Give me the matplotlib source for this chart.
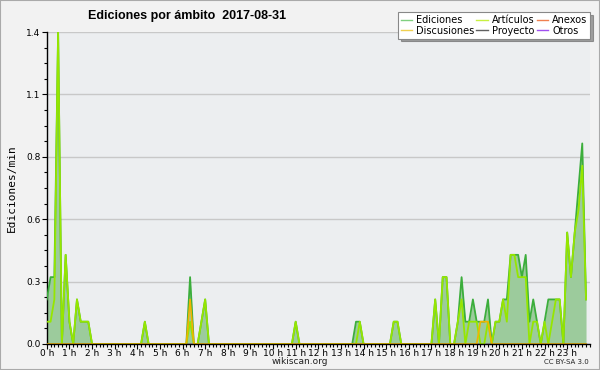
import numpy as np
from matplotlib import pyplot as plt
from matplotlib.ticker import MultipleLocator, FixedLocator
from matplotlib.lines import Line2D

# edits per minute, 10-minute bins (6 per hour), one row per hour
ediciones = [
    0.2, 0.3, 0.3, 1.4, 0, 0.4,
    0.1, 0, 0.2, 0.1, 0.1, 0.1,
    0, 0, 0, 0, 0, 0,
    0, 0, 0, 0, 0, 0,
    0, 0, 0.1, 0, 0, 0,
    0, 0, 0, 0, 0, 0,
    0, 0, 0.3, 0, 0, 0.1,
    0.2, 0, 0, 0, 0, 0,
    0, 0, 0, 0, 0, 0,
    0, 0, 0, 0, 0, 0,
    0, 0, 0, 0, 0, 0,
    0.1, 0, 0, 0, 0, 0,
    0, 0, 0, 0, 0, 0,
    0, 0, 0, 0, 0.1, 0.1,
    0, 0, 0, 0, 0, 0,
    0, 0, 0.1, 0.1, 0, 0,
    0, 0, 0, 0, 0, 0,
    0, 0.2, 0, 0.3, 0.3, 0,
    0, 0.1, 0.3, 0.1, 0.1, 0.2,
    0.1, 0.1, 0.1, 0.2, 0, 0.1,
    0.1, 0.2, 0.2, 0.4, 0.4, 0.4,
    0.3, 0.4, 0.1, 0.2, 0.1, 0,
    0.1, 0.2, 0.2, 0.2, 0.2, 0,
    0.5, 0.3, 0.5, 0.7, 0.9, 0.2,
]
articulos = [
    0.1, 0.1, 0.2, 1.4, 0, 0.4,
    0.1, 0, 0.2, 0.1, 0.1, 0.1,
    0, 0, 0, 0, 0, 0,
    0, 0, 0, 0, 0, 0,
    0, 0, 0.1, 0, 0, 0,
    0, 0, 0, 0, 0, 0,
    0, 0, 0.1, 0, 0, 0.1,
    0.2, 0, 0, 0, 0, 0,
    0, 0, 0, 0, 0, 0,
    0, 0, 0, 0, 0, 0,
    0, 0, 0, 0, 0, 0,
    0.1, 0, 0, 0, 0, 0,
    0, 0, 0, 0, 0, 0,
    0, 0, 0, 0, 0, 0.1,
    0, 0, 0, 0, 0, 0,
    0, 0, 0.1, 0.1, 0, 0,
    0, 0, 0, 0, 0, 0,
    0, 0.2, 0, 0.3, 0.3, 0,
    0, 0.1, 0.2, 0, 0.1, 0.1,
    0.1, 0, 0, 0.1, 0, 0.1,
    0.1, 0.2, 0.1, 0.4, 0.4, 0.3,
    0.3, 0.3, 0, 0.1, 0.1, 0,
    0.1, 0, 0.1, 0.2, 0.2, 0,
    0.5, 0.3, 0.5, 0.6, 0.8, 0.2,
]
discusiones = [0.0] * 144
discusiones[38] = 0.2
discusiones[115] = 0.1
discusiones[116] = 0.1
discusiones[117] = 0.1
anexos = [0.0] * 144
proyecto = [0.0] * 144
otros = [0.0] * 144

horas = np.arange(144) / 6.0
hour_labels = ['%i h' % h for h in range(24)]
y_ticks = [0, 0.28, 0.56, 0.84, 1.12, 1.4]
y_labels = ['%.1f' % v for v in y_ticks]

fig = plt.figure(figsize=(6, 3.7), dpi=100, facecolor='#f2f2f2')
ax = fig.add_axes([0.078, 0.0703, 0.905, 0.8432], facecolor='#eceef0')

ax.fill_between(horas, ediciones, color='#9ccb9c', lw=0, zorder=2)
ax.plot(horas, anexos, color='#f08050', lw=1, zorder=2)
ax.plot(horas, proyecto, color='#606060', lw=1, zorder=2)
ax.plot(horas, otros, color='#a050f0', lw=1, zorder=2)
ax.plot(horas, ediciones, color='#3cae3c', lw=1.3, zorder=3)
ax.plot(horas, articulos, color='#96e600', lw=1.3, zorder=4)
ax.plot(horas, discusiones, color='#f0b400', lw=1.2, zorder=5)

ax.set_xlim(0, 24)
ax.set_ylim(0, 1.4)
ax.xaxis.set_major_locator(FixedLocator(range(24)))
ax.set_xticklabels(hour_labels)
ax.xaxis.set_minor_locator(MultipleLocator(1 / 6.0))
ax.yaxis.set_major_locator(FixedLocator(y_ticks))
ax.set_yticklabels(y_labels)
ax.yaxis.set_minor_locator(MultipleLocator(0.07))
ax.tick_params(axis='both', which='major', labelsize=6.5, length=3.5, width=0.8, colors='black')
ax.tick_params(axis='x', which='major', pad=0)
ax.tick_params(axis='y', which='major', pad=1)
ax.tick_params(axis='both', which='minor', length=2.5, width=0.8)
ax.grid(axis='y', which='major', color='#c8c8c8', lw=1)
ax.set_axisbelow(True)
for s in ['top', 'right']:
    ax.spines[s].set_visible(False)
ax.spines['left'].set_linewidth(1)
ax.spines['bottom'].set_linewidth(1)
ax.spines['bottom'].set_zorder(6)

ax.set_ylabel('Ediciones/min', fontsize=8, family='DejaVu Sans Mono', labelpad=7)
fig.text(0.3125, 0.958, 'Ediciones por ámbito  2017-08-31', fontsize=9, fontweight='bold',
         family='Liberation Sans', ha='center', va='center')
fig.text(0.5, 0.022, 'wikiscan.org', fontsize=6.5, ha='center', va='center', color='#222222')
fig.text(0.982, 0.022, 'CC BY-SA 3.0', fontsize=5, ha='right', va='center', color='#222222')

handles = [
    Line2D([], [], color='#80d080', lw=1), Line2D([], [], color='#f0d050', lw=1),
    Line2D([], [], color='#c8f040', lw=1), Line2D([], [], color='#606060', lw=1),
    Line2D([], [], color='#f08050', lw=1), Line2D([], [], color='#a050f0', lw=1),
]
names = ['Ediciones', 'Discusiones', 'Artículos', 'Proyecto', 'Anexos', 'Otros']
leg = fig.legend(handles, names, ncol=3, loc='upper right', bbox_to_anchor=(0.992, 0.98),
                 fontsize=7, handlelength=1.2, handletextpad=0.4, columnspacing=0.2,
                 labelspacing=0.05, borderpad=0.3, fancybox=False, shadow=True,
                 framealpha=1, edgecolor='#888888')
leg.get_frame().set_linewidth(0.8)

fig.patches.append(plt.Rectangle((0, 0), 1, 1, transform=fig.transFigure, fill=False,
                                 edgecolor='#aaaaaa', lw=1.5))
fig.savefig('out.png', dpi=100, facecolor=fig.get_facecolor())
